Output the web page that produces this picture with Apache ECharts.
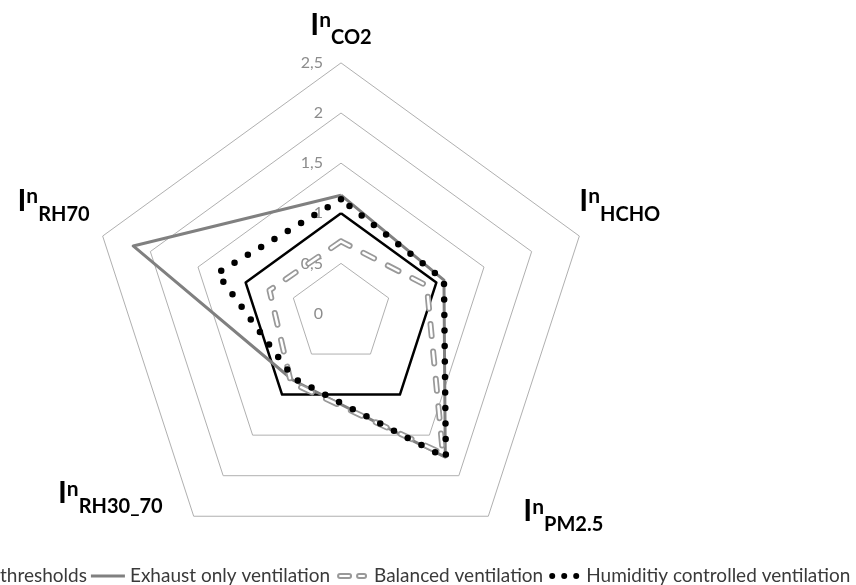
<!DOCTYPE html>
<html>
<head>
<meta charset="utf-8">
<script src="https://cdn.jsdelivr.net/npm/echarts@6/dist/echarts.min.js"></script>
<style>
html,body{margin:0;padding:0;background:#fff;}
#chart{width:856px;height:585px;}
</style>
</head>
<body>
<div id="chart"></div>
<script>
// ---- data (clockwise from the top, as in the reference) ----
const categories = ['CO2', 'HCHO', 'PM2.5', 'RH30_70', 'RH70'];
const tickValues = [0, 0.5, 1, 1.5, 2, 2.5];
const seriesNames = ['thresholds', 'Exhaust only ventilation', 'Balanced ventilation', 'Humiditiy controlled ventilation'];
const thresholds = [1, 1, 1, 1, 1];
const exhaustOnly = [1.18, 1.08, 1.77, 0.82, 2.18];
const balanced = [0.72, 0.90, 1.73, 0.85, 0.75];
const humidityControlled = [1.14, 1.08, 1.78, 0.80, 1.30];

// ECharts lays radar indicators out counter-clockwise; reorder to get clockwise
const order = [0, 4, 3, 2, 1];
const reorder = arr => order.map(i => arr[i]);

const axisMax = tickValues[tickValues.length - 1];
const step = tickValues[1] - tickValues[0];
const CENTER = [341, 313.5];
const RADIUS = 250.6;
const FONT = 'Lato';

// per-indicator label styling (rich-text keys)
const subStyleKey = { 'CO2': 'sCO2', 'HCHO': 'sHCHO', 'PM2.5': 'sPM', 'RH30_70': 'sRH30', 'RH70': 'sRH70' };
const iStyleKey = { 'PM2.5': 'Ipm' };

const base = { fontFamily: FONT, fontWeight: 'bold', color: '#000' };
const subBase = Object.assign({}, base, { fontSize: 20, verticalAlign: 'top' });
const rich = {
  I: Object.assign({}, base, { fontSize: 30, lineHeight: 36, verticalAlign: 'top' }),
  Ipm: Object.assign({}, base, { fontSize: 30, lineHeight: 36, verticalAlign: 'top', padding: [0, 0, 0, 35] }),
  n: Object.assign({}, base, { fontSize: 21, lineHeight: 24, verticalAlign: 'top' }),
  sCO2: Object.assign({}, subBase, { lineHeight: 53, padding: [18, 0, 0, 0] }),
  sHCHO: Object.assign({}, subBase, { lineHeight: 100, padding: [18, 0, 0, 0] }),
  sPM: Object.assign({}, subBase, { lineHeight: 40, padding: [18, 0, 0, 0] }),
  sRH30: Object.assign({}, subBase, { lineHeight: 76, padding: [18, 31, 0, 0] }),
  sRH70: Object.assign({}, subBase, { lineHeight: 100, padding: [18, 13, 0, 0] })
};

const chart = echarts.init(document.getElementById('chart'), null, { renderer: 'canvas' });

const legendIcons = {
  'thresholds': { icon: 'path://M0,0M34,10M0,4h34v2h-34z', itemStyle: { color: '#000', borderWidth: 0 } },
  'Exhaust only ventilation': { icon: 'path://M0,0M34,10M0,3.5h34v3h-34z', itemStyle: { color: '#808080', borderWidth: 0 } },
  'Balanced ventilation': { icon: 'path://M0,0M34,10M5,3h9a2,2 0 0 1 0,4h-9a2,2 0 0 1 0,-4zM24,3h5a2,2 0 0 1 0,4h-5a2,2 0 0 1 0,-4z', itemStyle: { color: '#fff', borderColor: '#999', borderWidth: 2 } },
  'Humiditiy controlled ventilation': { icon: 'path://M0,0M34,10M2,5a3,3 0 1 0 6,0a3,3 0 1 0 -6,0zM14,5a3,3 0 1 0 6,0a3,3 0 1 0 -6,0zM26,5a3,3 0 1 0 6,0a3,3 0 1 0 -6,0z', itemStyle: { color: '#000', borderWidth: 0 } }
};

function radarSeries(name, values, lineStyle, z) {
  return {
    type: 'radar',
    name: name,
    z: z,
    symbol: 'none',
    silent: true,
    data: [{ name: name, value: reorder(values) }],
    lineStyle: lineStyle,
    areaStyle: null
  };
}

const option = {
  animation: false,
  backgroundColor: '#fff',
  legend: {
    left: -39,
    top: 566,
    padding: 0,
    itemWidth: 34,
    itemHeight: 10,
    itemGap: 4,
    selectedMode: false,
    textStyle: { fontFamily: FONT, fontSize: 19, color: '#3a3a3a', lineHeight: 20 },
    data: seriesNames.map(n => Object.assign({ name: n }, legendIcons[n]))
  },
  radar: {
    center: CENTER,
    radius: RADIUS,
    startAngle: 90,
    shape: 'polygon',
    splitNumber: tickValues.length - 1,
    axisNameGap: 0,
    indicator: reorder(categories).map(c => ({ name: c, min: tickValues[0], max: axisMax })),
    axisName: {
      formatter: function (name) {
        return '{' + (iStyleKey[name] || 'I') + '|I}{n|n}{' + subStyleKey[name] + '|' + name + '}';
      },
      rich: rich
    },
    axisLine: { show: false },
    axisTick: { show: false },
    axisLabel: { show: false },
    splitArea: { show: false },
    splitLine: { lineStyle: { color: '#b0b0b0', width: 1 } }
  },
  polar: { center: CENTER, radius: RADIUS },
  angleAxis: { show: false, startAngle: 90, min: 0, max: 360 },
  radiusAxis: {
    min: tickValues[0],
    max: axisMax,
    interval: step,
    axisLine: { show: false },
    axisTick: { show: false },
    splitLine: { show: false },
    axisLabel: {
      margin: 18,
      color: '#8c8c8c',
      fontFamily: FONT,
      fontSize: 16,
      formatter: v => String(v).replace('.', ',')
    }
  },
  series: [
    radarSeries(seriesNames[0], thresholds, { color: '#000', width: 2.5 }, 2),
    radarSeries(seriesNames[1], exhaustOnly, { color: '#808080', width: 3 }, 3),
    radarSeries(seriesNames[2], balanced, { color: '#999', width: 6, type: [12, 15.5], cap: 'round' }, 4),
    radarSeries('_balancedInner', balanced, { color: '#fff', width: 2.5, type: [12, 15.5], cap: 'round' }, 5),
    radarSeries(seriesNames[3], humidityControlled, { color: '#000', width: 6.5, type: [0, 15.5], cap: 'round' }, 6)
  ]
};

chart.setOption(option);
</script>
</body>
</html>
